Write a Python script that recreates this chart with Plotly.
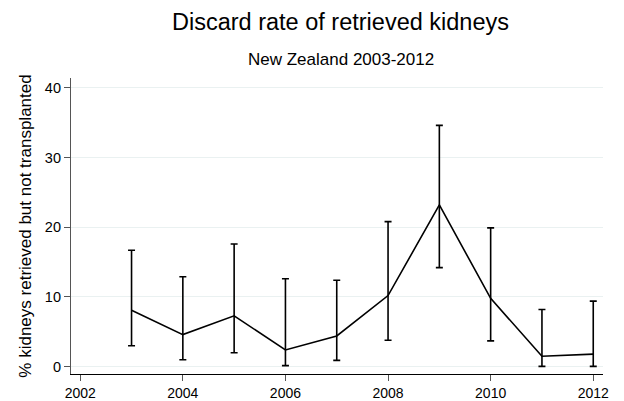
import plotly.graph_objects as go

# Annual discard rate with 95% confidence limits
years = [2003, 2004, 2005, 2006, 2007, 2008, 2009, 2010, 2011, 2012]
rate = [8.1, 4.6, 7.3, 2.4, 4.4, 10.2, 23.2, 9.8, 1.5, 1.8]
upper = [16.7, 12.9, 17.6, 12.6, 12.4, 20.8, 34.6, 19.9, 8.2, 9.4]
lower = [3.0, 1.0, 2.0, 0.15, 0.9, 3.8, 14.2, 3.7, 0.05, 0.05]

x_ticks = [2002, 2004, 2006, 2008, 2010, 2012]
y_ticks = [0, 10, 20, 30, 40]

font_family = "Arial, Liberation Sans, sans-serif"

err_plus = [u - r for u, r in zip(upper, rate)]
err_minus = [r - l for r, l in zip(rate, lower)]

fig = go.Figure()
fig.add_trace(go.Scatter(
    x=years, y=rate, mode="lines",
    line=dict(color="black", width=1.6),
    error_y=dict(type="data", symmetric=False, array=err_plus, arrayminus=err_minus,
                 color="black", thickness=1.6, width=3.5),
    showlegend=False,
))

fig.update_layout(
    template="none",
    width=624, height=401,
    margin=dict(l=71, r=21, t=78, b=27),
    paper_bgcolor="white", plot_bgcolor="white",
    font=dict(family=font_family, color="black"),
    xaxis=dict(
        automargin=False,
        range=[2001.82, 2012.19], tickvals=x_ticks, ticktext=[str(t) for t in x_ticks],
        showgrid=False, zeroline=False, showline=True, linecolor="black", linewidth=1.2,
        ticks="outside", ticklen=6, tickcolor="#555", tickwidth=1,
        tickfont=dict(size=14, family=font_family),
    ),
    yaxis=dict(
        automargin=False,
        range=[-1.05, 41.4], tickvals=y_ticks, ticktext=[str(t) for t in y_ticks],
        showgrid=True, gridcolor="#eaf1f1", gridwidth=1.2, zeroline=False,
        showline=True, linecolor="#555", linewidth=1.2,
        ticks="outside", ticklen=6, tickcolor="#555", tickwidth=1,
        tickfont=dict(size=14.5, family=font_family),
        title=dict(text="% kidneys retrieved but not transplanted",
                   font=dict(size=17, family=font_family), standoff=8),
    ),
    annotations=[
        dict(text="Discard rate of retrieved kidneys", xref="paper", yref="paper",
             x=0.507, y=1.19, xanchor="center", yanchor="middle", showarrow=False,
             font=dict(size=23.5, family=font_family, color="black")),
        dict(text="New Zealand 2003-2012", xref="paper", yref="paper",
             x=0.507, y=1.063, xanchor="center", yanchor="middle", showarrow=False,
             font=dict(size=17, family=font_family, color="black")),
    ],
)

fig.write_html("out.html")
